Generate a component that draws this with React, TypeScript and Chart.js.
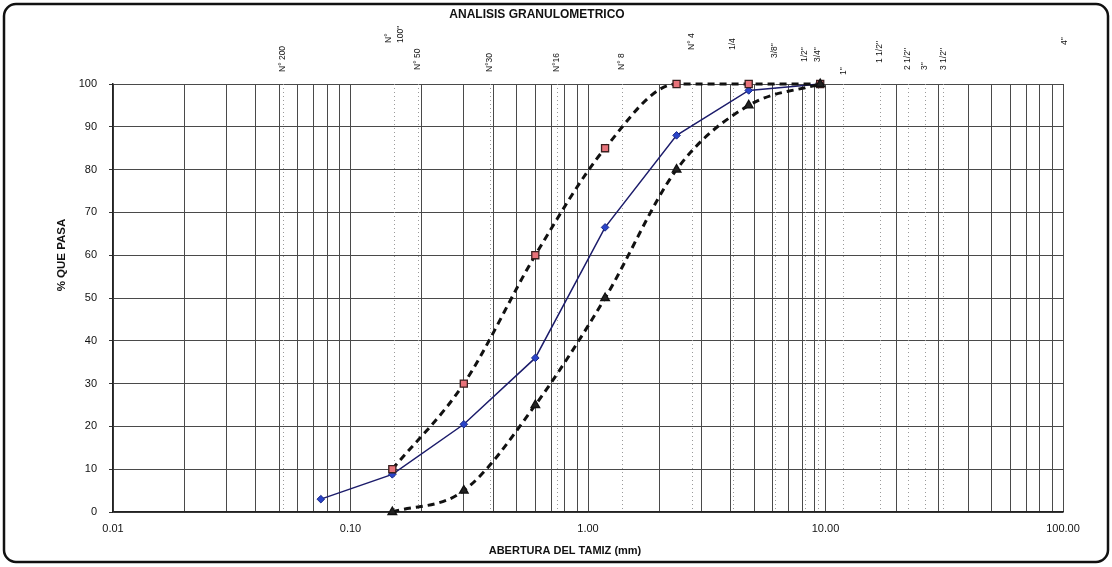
import React, { useEffect, useRef } from 'react';
import { Chart, registerables } from 'chart.js';
Chart.register(...registerables);

// ---- data ----
const sieveSizes = [0.075, 0.15, 0.3, 0.6, 1.18, 2.36, 4.75, 9.5];
const muestra = [3, 8.8, 20.5, 36, 66.5, 88, 98.5, 100];
const limitSizes = [0.15, 0.3, 0.6, 1.18, 2.36, 4.75, 9.5];
const limiteSuperior = [10, 30, 60, 85, 100, 100, 100];
const limiteInferior = [0, 5, 25, 50, 80, 95, 100];
const decades = [0.01, 0.1, 1, 10, 100];
const sieveNames = ['N° 200', 'N°\n100"', 'N° 50', 'N°30', 'N°16', 'N° 8', 'N° 4', '1/4', '3/8"', '1/2"', '3/4"', '1"', '1 1/2"', '2 1/2"', '3"', '3 1/2"', '4"'];
const sieveNameAt = [0.052, 0.153, 0.192, 0.386, 0.74, 1.39, 2.74, 4.08, 6.13, 8.2, 9.3, 11.9, 16.9, 22.2, 26.2, 31.3, 102];

// ---- layout (pixel bottoms of the rotated sieve names) ----
const sieveNameBottom = [72, 43, 70, 72, 72, 70, 50, 50, 58, 62, 62, 75, 63, 70, 70, 70, 45];

const FONT = '"Liberation Sans", Arial, sans-serif';

const decorPlugin = {
  id: 'decor',
  beforeDatasetsDraw(chart: any) {
    const { ctx, chartArea, scales } = chart;
    const x = scales.x;
    ctx.save();
    ctx.strokeStyle = '#9a9a9a';
    ctx.lineWidth = 1;
    ctx.setLineDash([1, 3]);
    sieveNameAt.forEach((v) => {
      if (v > 100) return;
      const px = Math.round(x.getPixelForValue(v)) + 0.5;
      ctx.beginPath();
      ctx.moveTo(px, chartArea.top);
      ctx.lineTo(px, chartArea.bottom);
      ctx.stroke();
    });
    ctx.restore();
  },
  afterDraw(chart: any) {
    const { ctx, scales } = chart;
    const x = scales.x;
    ctx.save();
    // frame
    ctx.strokeStyle = '#111';
    ctx.lineWidth = 2.5;
    ctx.beginPath();
    (ctx as any).roundRect(4, 4, 1104, 558, 12);
    ctx.stroke();

    ctx.fillStyle = '#111';
    // title
    ctx.font = `bold 12px ${FONT}`;
    ctx.textAlign = 'center';
    ctx.textBaseline = 'middle';
    ctx.fillText('ANALISIS GRANULOMETRICO', 537, 15);
    // x title
    ctx.font = `bold 11px ${FONT}`;
    ctx.fillText('ABERTURA DEL TAMIZ (mm)', 565, 551);
    // y title
    ctx.save();
    ctx.translate(62, 255);
    ctx.rotate(-Math.PI / 2);
    ctx.font = `bold 11.5px ${FONT}`;
    ctx.fillText('% QUE PASA', 0, 0);
    ctx.restore();

    // sieve names
    ctx.font = `8.5px ${FONT}`;
    ctx.textAlign = 'left';
    sieveNames.forEach((name, i) => {
      const px = x.getPixelForValue(sieveNameAt[i]);
      const lines = name.split('\n');
      ctx.save();
      ctx.translate(px, sieveNameBottom[i]);
      ctx.rotate(-Math.PI / 2);
      lines.forEach((ln, j) => {
        ctx.fillText(ln, 0, (j - (lines.length - 1) / 2) * 12);
      });
      ctx.restore();
    });
    ctx.restore();
  },
};

export default function App() {
  const ref = useRef<HTMLCanvasElement>(null);
  useEffect(() => {
    document.body.style.margin = '0';
    const canvas = ref.current!;
    const dashed = {
      borderColor: '#111',
      borderWidth: 3,
      borderDash: [7, 5],
      cubicInterpolationMode: 'monotone' as const,
      pointRadius: 5,
      pointBorderWidth: 1.3,
      showLine: true,
      clip: 12,
    };
    const chart = new Chart(canvas, {
      type: 'scatter',
      data: {
        datasets: [
          {
            label: 'Límite inferior',
            data: limitSizes.map((s, i) => ({ x: s, y: limiteInferior[i] })),
            ...dashed,
            pointStyle: 'triangle',
            pointBackgroundColor: '#222',
            pointBorderColor: '#111',
            order: 0,
          },
          {
            label: 'Límite superior',
            data: limitSizes.map((s, i) => ({ x: s, y: limiteSuperior[i] })),
            ...dashed,
            pointStyle: 'rect',
            pointBackgroundColor: '#e8737a',
            pointBorderColor: '#3a1f1f',
            order: 1,
          },
          {
            label: 'Muestra',
            data: sieveSizes.map((s, i) => ({ x: s, y: muestra[i] })),
            borderColor: '#1c1c6b',
            borderWidth: 1.5,
            tension: 0,
            showLine: true,
            pointStyle: 'rectRot',
            pointRadius: 3.8,
            pointBackgroundColor: '#2a44c8',
            pointBorderColor: '#1a2a8a',
            pointBorderWidth: 1,
            clip: 12,
            order: 2,
          },
        ],
      },
      options: {
        responsive: false,
        animation: false,
        devicePixelRatio: 1,
        layout: { padding: { top: 84, right: 49, left: 0, bottom: 0 } },
        plugins: {
          legend: { display: false },
          tooltip: { enabled: false },
          title: { display: false },
        },
        scales: {
          x: {
            type: 'logarithmic',
            min: 0.01,
            max: 100,
            afterFit: (s: any) => {
              s.height = 55;
            },
            afterBuildTicks: (s: any) => {
              const t: any[] = [];
              for (let d = 0; d < decades.length - 1; d++) {
                for (let m = 1; m <= 9; m++) t.push({ value: m * decades[d] });
              }
              t.push({ value: decades[decades.length - 1] });
              s.ticks = t;
            },
            ticks: {
              autoSkip: false,
              maxRotation: 0,
              minRotation: 0,
              padding: 10,
              color: '#111',
              font: { family: FONT, size: 11 },
              callback: (v: any) => {
                const val = Number(v);
                return decades.some((d) => Math.abs(d - val) / d < 1e-6) ? val.toFixed(2) : '';
              },
            },
            grid: { color: '#4a4a4a', lineWidth: 1, drawTicks: false },
            border: { color: '#222', width: 1.5 },
          },
          y: {
            min: 0,
            max: 100,
            afterFit: (s: any) => {
              s.width = 113;
            },
            ticks: {
              stepSize: 10,
              padding: 12,
              color: '#111',
              font: { family: FONT, size: 11 },
            },
            grid: { color: '#4a4a4a', lineWidth: 1, tickLength: 4, tickColor: '#333' },
            border: { color: '#222', width: 1.5 },
          },
        },
      },
      plugins: [decorPlugin],
    });
    return () => chart.destroy();
  }, []);
  return (
    <div style={{ width: 1112, height: 567 }}>
      <canvas ref={ref} width={1112} height={567} />
    </div>
  );
}
